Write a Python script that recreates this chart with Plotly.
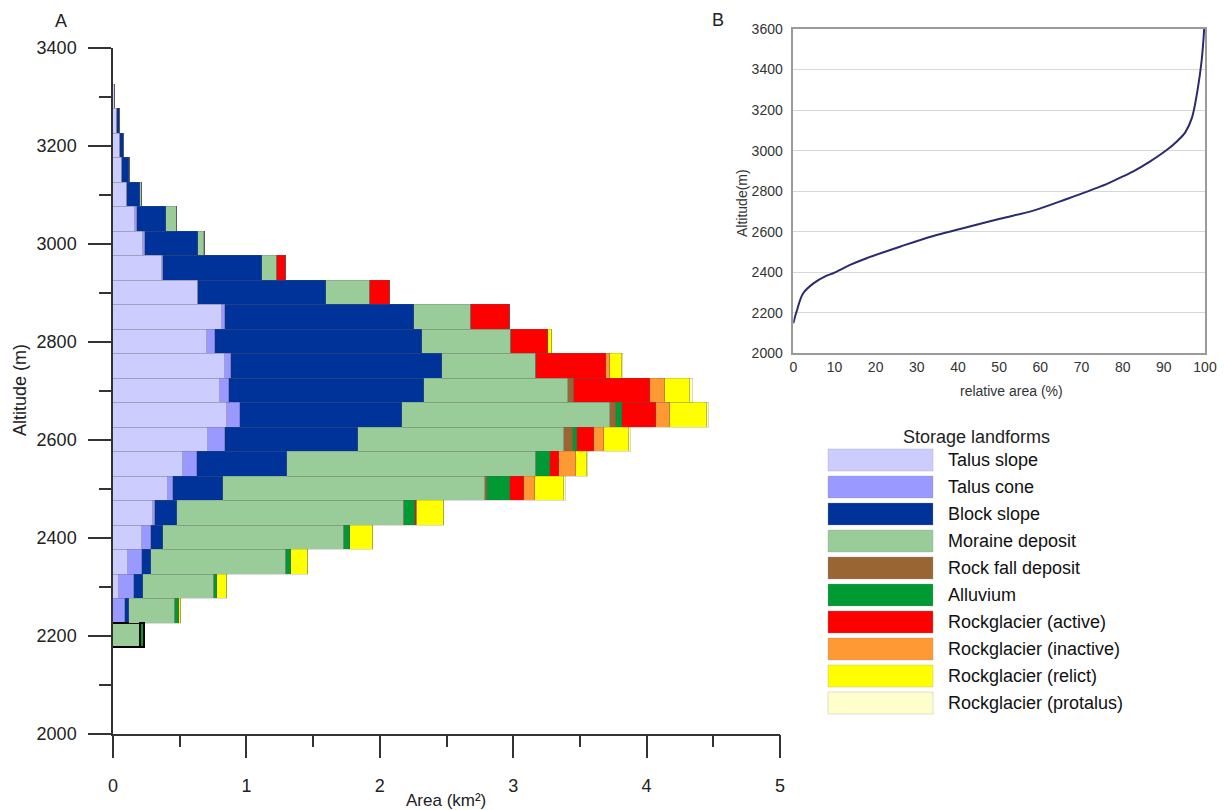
import plotly.graph_objects as go

# ---------------- Data ----------------
altitudes = [2200, 2250, 2300, 2350, 2400, 2450, 2500, 2550, 2600, 2650, 2700, 2750,
             2800, 2850, 2900, 2950, 3000, 3050, 3100, 3150, 3200, 3250, 3300]

talus_slope = [0, 0, 0.045, 0.115, 0.22, 0.303, 0.415, 0.528, 0.715, 0.853, 0.80, 0.84,
               0.708, 0.815, 0.64, 0.365, 0.228, 0.165, 0.105, 0.065, 0.055, 0.03, 0.015]
talus_cone = [0, 0.09, 0.115, 0.10, 0.063, 0.012, 0.038, 0.10, 0.125, 0.10, 0.073, 0.043,
              0.057, 0.025, 0, 0.01, 0.01, 0.013, 0, 0, 0, 0, 0]
block_slope = [0, 0.033, 0.068, 0.068, 0.095, 0.168, 0.375, 0.675, 0.995, 1.217, 1.455, 1.583,
               1.55, 1.418, 0.953, 0.74, 0.402, 0.217, 0.10, 0.055, 0.025, 0.02, 0]
moraine = [0.21, 0.342, 0.532, 1.012, 1.35, 1.695, 1.958, 1.87, 1.543, 1.558, 1.082, 0.705,
           0.671, 0.425, 0.33, 0.113, 0.043, 0.083, 0.012, 0.005, 0, 0, 0]
rock_fall = [0, 0, 0, 0, 0, 0, 0.017, 0, 0.07, 0.045, 0.043, 0,
             0, 0, 0, 0, 0.007, 0, 0, 0, 0, 0, 0]
alluvium = [0.03, 0.033, 0.018, 0.038, 0.045, 0.088, 0.17, 0.105, 0.03, 0.043, 0, 0,
            0, 0, 0, 0, 0, 0, 0, 0, 0, 0, 0]
rg_active = [0, 0, 0, 0, 0, 0.008, 0.105, 0.065, 0.13, 0.257, 0.57, 0.525,
             0.275, 0.295, 0.15, 0.072, 0, 0, 0, 0, 0, 0, 0]
rg_inactive = [0, 0, 0, 0, 0, 0.005, 0.088, 0.13, 0.075, 0.105, 0.113, 0.032,
               0, 0, 0, 0, 0, 0, 0, 0, 0, 0, 0]
rg_relict = [0, 0.012, 0.08, 0.125, 0.175, 0.20, 0.212, 0.08, 0.188, 0.276, 0.192, 0.088,
             0.03, 0, 0, 0, 0, 0, 0, 0, 0, 0, 0]
rg_protalus = [0, 0, 0, 0, 0, 0, 0.018, 0.01, 0.012, 0.014, 0.018, 0.01,
               0, 0, 0, 0, 0, 0, 0, 0, 0, 0, 0]

landform_names = ["Talus slope", "Talus cone", "Block slope", "Moraine deposit",
                  "Rock fall deposit", "Alluvium", "Rockglacier (active)",
                  "Rockglacier (inactive)", "Rockglacier (relict)", "Rockglacier (protalus)"]
landform_colors = ["#CCCCFF", "#9999FF", "#003399", "#99CC99", "#996633",
                   "#009933", "#FF0000", "#FF9933", "#FFFF00", "#FFFFCC"]
series = [talus_slope, talus_cone, block_slope, moraine, rock_fall, alluvium,
          rg_active, rg_inactive, rg_relict, rg_protalus]

# Hypsometric curve (panel B)
rel_area = [0, 0.8, 2.4, 4.9, 8.1, 9.7, 13.8, 17.8, 25.9, 34.0, 40.5, 50.2, 58.3, 66.4,
            74.5, 78.5, 82.6, 86.6, 90.7, 93.1, 95.2, 96.8, 98.2, 99.2, 99.8]
rel_alt = [2148, 2206, 2296, 2345, 2383, 2395, 2436, 2469, 2526, 2579, 2613, 2664, 2704, 2761,
           2822, 2858, 2898, 2946, 3003, 3044, 3090, 3160, 3300, 3447, 3600]

W, H = 1224, 810
def px(x):
    return x / W
def py(y):
    return 1 - y / H

FONT = "Liberation Sans, Arial, sans-serif"
NARROW = "Liberation Sans Narrow, Arial Narrow, Liberation Sans, Arial, sans-serif"

fig = go.Figure()

for name, color, vals in zip(landform_names, landform_colors, series):
    line_cols = ["#000000" if a == 2200 else "rgba(90,90,90,0.35)" for a in altitudes]
    line_w = [1.6 if a == 2200 else 0.6 for a in altitudes]
    fig.add_trace(go.Bar(
        y=altitudes, x=vals, orientation="h", name=name, width=50,
        marker=dict(color=color, line=dict(color=line_cols, width=line_w)),
        showlegend=False, xaxis="x", yaxis="y"))

fig.add_trace(go.Scatter(
    x=rel_area, y=rel_alt, mode="lines", line=dict(color="#2B2A6E", width=2, shape="spline"),
    showlegend=False, xaxis="x2", yaxis="y2"))

fig.update_layout(
    width=W, height=H, margin=dict(l=0, r=0, t=0, b=0, autoexpand=False),
    paper_bgcolor="white", plot_bgcolor="white",
    barmode="stack", bargap=0,
    font=dict(family=FONT, color="#222"),
    xaxis=dict(domain=[px(113), px(780)], range=[0, 5], anchor="y", automargin=False,
               showline=True, linecolor="#333", linewidth=1.5,
               ticks="outside", ticklen=23, tickwidth=1.5, tickcolor="#333",
               dtick=1, tick0=0, showgrid=False, zeroline=False,
               tickfont=dict(size=18, family=FONT, color="#222"),
               ticklabelstandoff=12,
               minor=dict(dtick=0.5, ticklen=12, tickwidth=1.5, tickcolor="#333", ticks="outside",
                          showgrid=False)),
    yaxis=dict(domain=[py(733.5), py(47.7)], range=[2000, 3400], anchor="x", automargin=False,
               showline=True, linecolor="#333", linewidth=1.5,
               ticks="outside", ticklen=23, tickwidth=1.5, tickcolor="#333",
               dtick=200, tick0=2000, showgrid=False, zeroline=False,
               tickfont=dict(size=18, family=FONT, color="#222"),
               ticklabelstandoff=8,
               minor=dict(dtick=100, ticklen=12, tickwidth=1.5, tickcolor="#333", ticks="outside",
                          showgrid=False)),
    xaxis2=dict(domain=[px(793.3), px(1205)], range=[0, 100], anchor="y2", automargin=False,
                showline=True, mirror=True, linecolor="#9a9a9a", linewidth=1.5,
                ticks="", dtick=10, tick0=0, showgrid=False, zeroline=False,
                tickfont=dict(size=14, family=NARROW, color="#333")),
    yaxis2=dict(domain=[py(353.3), py(29)], range=[2000, 3600], anchor="x2", automargin=False,
                showline=True, mirror=True, linecolor="#9a9a9a", linewidth=1.5,
                ticks="", dtick=200, tick0=2000, showgrid=True, gridcolor="#d6d6d6",
                gridwidth=1, zeroline=False, ticklabelstandoff=6,
                tickfont=dict(size=14, family=NARROW, color="#333")),
)

def ann(text, x, y, size, family=FONT, color="#222", angle=0, xanchor="center"):
    return dict(text=text, x=px(x), y=py(y), xref="paper", yref="paper", showarrow=False,
                xanchor=xanchor, yanchor="middle", textangle=angle,
                font=dict(size=size, family=family, color=color))

annotations = [
    ann("A", 61, 21, 18),
    ann("B", 718, 20, 18),
    ann("Altitude (m)", 20, 390, 18, angle=-90),
    ann("Area (km²)", 446, 800, 17),
    ann("Altitude(m)", 742, 203, 14, family=NARROW, color="#333", angle=-90),
    ann("relative area (%)", 1012, 391, 14, family=NARROW, color="#333"),
    ann("Storage landforms", 976, 437, 18),
]

shapes = []
for i, (name, color) in enumerate(zip(landform_names, landform_colors)):
    top = 449 + 27 * i
    shapes.append(dict(type="rect", xref="paper", yref="paper",
                       x0=px(828), x1=px(933), y0=py(top + 22), y1=py(top),
                       fillcolor=color, line=dict(color="rgba(150,150,150,0.3)", width=1)))
    annotations.append(ann(name, 946, top + 11, 18, color="#111", xanchor="left"))

fig.update_layout(annotations=annotations, shapes=shapes)

fig.write_html("out.html")
